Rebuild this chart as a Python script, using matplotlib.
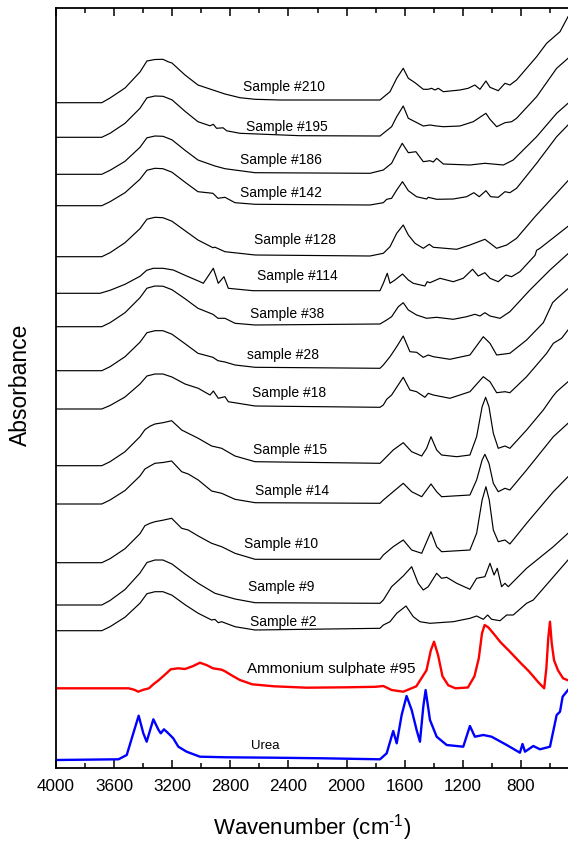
import matplotlib
matplotlib.use("Agg")
import matplotlib.pyplot as plt
from matplotlib.ticker import MultipleLocator

plt.rcParams['font.family'] = ['Liberation Sans', 'DejaVu Sans']
plt.rcParams['mathtext.default'] = 'regular'

# spectra: (wavenumber, absorbance above the curve's own baseline), arbitrary units
s210 = [(4000, 0), (3685, 0), (3628, 4.7), (3525, 14.7), (3422, 30.7), (3374, 41.7), (3319, 43.2),
        (3264, 43.4), (3229, 41), (3202, 39.7), (3112, 27.7), (3023, 17.7), (2920, 12.7), (2837, 8.7),
        (2734, 5), (2630, 3.4), (2458, 2.7), (1770, 2.7), (1701, 11), (1655, 24.4), (1610, 34.4),
        (1575, 24.4), (1529, 20), (1472, 13.4), (1438, 13.4), (1415, 14.4), (1392, 12.7), (1369, 14.4),
        (1334, 11), (1220, 12.7), (1163, 14.4), (1117, 17.7), (1082, 13.4), (1041, 21.7), (1013, 15.4),
        (956, 12), (910, 19.4), (876, 17.7), (830, 22.7), (692, 46), (623, 59.4), (531, 71), (476, 86)]
s195 = [(4000, 0), (3685, 0), (3628, 4), (3525, 14), (3422, 29), (3374, 39.5), (3319, 41.3),
        (3264, 41), (3202, 37.5), (3112, 26), (3023, 15.6), (2940, 11.5), (2917, 13), (2895, 9),
        (2850, 9.5), (2825, 6.5), (2734, 4), (2321, 1.6), (1770, 1.3), (1747, 4), (1690, 10.6),
        (1655, 20.6), (1610, 31.3), (1575, 19), (1529, 15.6), (1472, 11.3), (1426, 12.3), (1380, 11.3),
        (1334, 10.6), (1220, 11.3), (1128, 15.6), (1041, 24), (1013, 18), (967, 10.6), (910, 14.6),
        (864, 15.6), (830, 19), (692, 40.6), (554, 69), (476, 79)]
s186 = [(4000, 0), (3685, 0), (3628, 4), (3525, 13), (3422, 27), (3374, 36.5), (3319, 38.3),
        (3264, 38), (3202, 34.5), (3112, 24), (3023, 14.3), (2906, 8.3), (2837, 5.6), (2630, 1.6),
        (1839, 1), (1747, 4.3), (1690, 11), (1655, 21), (1617, 31), (1575, 21.6), (1523, 22.6),
        (1472, 12.6), (1426, 13.6), (1403, 12.3), (1380, 16), (1334, 10.3), (1151, 9.3), (1048, 11),
        (921, 9.3), (853, 14.3), (692, 37.6), (554, 61), (476, 71)]
s142 = [(4000, 0), (3685, 0), (3628, 4), (3525, 13), (3422, 26.5), (3374, 35.5), (3319, 37.4),
        (3264, 37), (3202, 33.5), (3112, 23.5), (3023, 14), (2920, 12.4), (2885, 7.4), (2837, 8.4),
        (2768, 3), (2630, 1.4), (1839, 0.7), (1747, 3), (1724, 6.4), (1690, 7.4), (1655, 15.7),
        (1615, 24), (1575, 15), (1518, 9), (1449, 6.7), (1438, 8.4), (1380, 6.4), (1266, 6.7),
        (1174, 9), (1124, 13), (1087, 9), (1041, 15), (1008, 9), (956, 8.4), (910, 14), (876, 13),
        (830, 17.4), (692, 42.4), (554, 69), (476, 80.7)]
s128 = [(4000, 0), (3685, 0), (3628, 4), (3525, 14), (3422, 28), (3374, 37.5), (3319, 39.4),
        (3264, 39), (3202, 35.5), (3112, 26), (3023, 16.7), (2920, 9), (2906, 9.5), (2837, 5),
        (2630, 1.7), (1839, 0.7), (1747, 3.4), (1701, 10), (1655, 23.4), (1610, 31.7), (1575, 21.7),
        (1529, 13.4), (1472, 8.4), (1431, 12.4), (1403, 9.4), (1242, 7.4), (1151, 11.7), (1048, 17.4),
        (967, 8.4), (898, 11.7), (830, 18.4), (703, 40), (476, 76)]
s114 = [(4000, 0), (3697, 0), (3628, 3), (3525, 9), (3422, 17), (3376, 23), (3330, 25), (3264, 25),
        (3193, 23.3), (3112, 18), (3009, 11.6), (2986, 10), (2917, 25), (2883, 10), (2844, 16.6),
        (2814, 5), (2644, 2.6), (1770, 2.6), (1747, 10), (1720, 20), (1701, 10), (1667, 13.3),
        (1615, 19.3), (1575, 13.3), (1541, 10), (1461, 7.3), (1445, 11.6), (1426, 10.6), (1357, 15),
        (1266, 11.6), (1197, 15), (1133, 24), (1094, 17.3), (1048, 20.6), (1013, 15), (956, 11.6),
        (903, 18.3), (864, 16.6), (807, 21.6), (703, 38), (692, 43), (669, 45), (476, 67)]
s38 = [(4000, 0), (3685, 0), (3628, 4), (3525, 14), (3422, 29), (3374, 38.5), (3319, 40.7),
       (3264, 40.5), (3202, 37), (3112, 28), (3023, 18.4), (2920, 12.4), (2885, 8.4), (2837, 8.4),
       (2768, 3.4), (2630, 1.7), (1770, 2.7), (1724, 6.7), (1690, 10), (1644, 20), (1610, 24),
       (1575, 16.7), (1518, 11.7), (1449, 8.4), (1380, 9.4), (1266, 7.4), (1174, 10), (1117, 12.4),
       (1082, 10.7), (1048, 14), (1013, 10.7), (944, 8.4), (876, 15), (738, 36.7), (600, 56.7),
       (476, 73)]
s28 = [(4000, 0), (3685, 0), (3628, 4), (3525, 14), (3422, 28.5), (3374, 38), (3319, 40), (3264, 40),
       (3202, 36.5), (3112, 27), (3023, 17.4), (2920, 13.4), (2885, 10), (2837, 8.7), (2768, 5.7),
       (2630, 3.4), (1770, 2.4), (1747, 5.7), (1701, 14), (1655, 24), (1610, 34.7), (1564, 19),
       (1518, 18.4), (1472, 13.4), (1438, 15.7), (1403, 14), (1289, 11.4), (1151, 15.7), (1059, 34),
       (1013, 27.4), (967, 15.7), (876, 17.4), (761, 30.7), (646, 48), (582, 68), (554, 72), (476, 82)]
s18 = [(4000, 0), (3685, 0), (3628, 3.5), (3525, 12), (3422, 25), (3374, 33), (3319, 35), (3264, 35),
       (3202, 32), (3112, 25), (3021, 20.7), (2940, 14), (2917, 18), (2883, 10.7), (2837, 12.3),
       (2814, 7.3), (2630, 3), (1770, 1.7), (1747, 4), (1724, 9.7), (1690, 14), (1610, 31.7),
       (1564, 19), (1518, 17.3), (1461, 11.7), (1438, 15.7), (1403, 14), (1289, 10.7), (1151, 17.3),
       (1059, 32.3), (1013, 27.3), (967, 16.3), (910, 17.3), (876, 16.3), (761, 32.3), (623, 55.7),
       (577, 65.7), (520, 70.7), (476, 79)]
s15 = [(4000, 0), (3685, 0), (3628, 4), (3525, 14), (3422, 29), (3388, 36), (3353, 39.5),
       (3319, 41.7), (3264, 43), (3204, 45), (3135, 35.7), (3090, 32.4), (3021, 27.4), (2929, 19.7),
       (2860, 17.4), (2768, 9.7), (2630, 4), (1770, 2.4), (1747, 5.7), (1679, 15.7), (1610, 23),
       (1552, 14), (1483, 9.7), (1449, 17.4), (1419, 29), (1380, 15.7), (1346, 10.7), (1242, 9),
       (1151, 10.7), (1105, 29), (1067, 59), (1043, 68.4), (1020, 59), (990, 32.4), (956, 17.4),
       (910, 19.7), (876, 17.4), (761, 35.7), (646, 55.7), (582, 69), (554, 74), (476, 84)]
s14 = [(4000, 0), (3685, 0), (3628, 4), (3525, 13.5), (3422, 28), (3388, 35), (3353, 38),
       (3319, 40.7), (3264, 41.5), (3204, 43), (3135, 32.3), (3090, 30), (3021, 24), (2929, 13),
       (2860, 10.7), (2768, 4.7), (2630, 1.3), (1770, 0.7), (1747, 4), (1679, 12.3), (1610, 20.7),
       (1552, 12.3), (1483, 7.3), (1419, 20), (1380, 12.3), (1346, 7.3), (1151, 9), (1105, 24),
       (1067, 44), (1048, 49.7), (1020, 40.7), (990, 20.7), (956, 12.3), (910, 15.7), (876, 14),
       (761, 34), (577, 67.3), (476, 80.7)]
s10 = [(4000, 0), (3685, 0), (3628, 4), (3525, 14), (3422, 29), (3388, 37), (3353, 39.4), (3319, 41),
       (3264, 42.5), (3204, 44.4), (3135, 34.4), (3090, 32.7), (3021, 26.7), (2929, 19.4),
       (2860, 16), (2768, 9.4), (2630, 3.4), (1770, 3.4), (1747, 7.7), (1679, 16), (1610, 22.7),
       (1552, 12.7), (1483, 9.4), (1419, 31), (1380, 16), (1346, 11), (1151, 12.7), (1105, 29.4),
       (1067, 62.7), (1041, 76), (1018, 62.7), (990, 32.7), (956, 21), (910, 22.7), (876, 18.7),
       (761, 39.4), (577, 71), (476, 86)]
s9 = [(4000, 0), (3685, 0), (3628, 4.5), (3525, 15.5), (3422, 32), (3374, 42.5), (3319, 45),
      (3264, 45), (3202, 41), (3112, 31), (3021, 21.7), (2906, 11.7), (2768, 6), (2630, 2.3),
      (1770, 1.7), (1747, 5), (1690, 18.3), (1610, 29), (1552, 38.3), (1507, 21.7), (1472, 15),
      (1438, 18.3), (1380, 31.7), (1346, 26.7), (1311, 27.7), (1242, 21.7), (1151, 15.7), (1105, 26.7),
      (1048, 28.3), (1013, 41.7), (985, 30), (963, 36.7), (933, 18.3), (910, 21.7), (887, 18.3),
      (761, 36.7), (577, 58.3), (476, 71.7)]
s2 = [(4000, 0), (3685, 0), (3628, 4), (3525, 13.5), (3422, 27.5), (3374, 37), (3319, 39), (3264, 39),
      (3202, 35.5), (3112, 26), (3021, 17.4), (2929, 10.7), (2906, 11.3), (2883, 8), (2860, 9),
      (2768, 4), (2630, 0.7), (1770, 2.4), (1747, 5.7), (1701, 9), (1655, 17.4), (1591, 24.7),
      (1541, 14), (1495, 9), (1426, 7.4), (1266, 9), (1151, 12.4), (1105, 14.7), (1059, 11.4),
      (1029, 15.7), (1002, 11.4), (944, 10), (898, 15.7), (853, 15.7), (761, 27.4), (715, 30.7),
      (476, 70.7)]
amm_sulphate = [(4000, 0), (3500, 0), (3460, -1.5), (3434, -3.4), (3400, -1.5), (3360, 0),
                (3330, 4), (3294, 8), (3240, 15), (3210, 19), (3160, 20), (3112, 19.3), (3060, 22),
                (3009, 25.6), (2960, 23), (2920, 20), (2860, 18.6), (2837, 17), (2780, 12),
                (2734, 8.3), (2650, 4), (2500, 2), (2275, 0.6), (2000, 1), (1800, 1.5), (1747, 2.3),
                (1690, -1.7), (1610, -3.4), (1520, 2), (1450, 18), (1420, 38), (1398, 46.6),
                (1370, 33), (1340, 12), (1300, 3), (1250, 0), (1165, 0.8), (1120, 12), (1090, 30),
                (1068, 55), (1050, 63.3), (1025, 61), (990, 55), (940, 46), (885, 38), (800, 25),
                (745, 17), (680, 6), (640, 0), (625, 20), (612, 50), (600, 66.6), (588, 45),
                (572, 28), (545, 18), (510, 10), (476, 8)]
urea = [(4000, 0), (3570, 0.7), (3513, 5), (3468, 26.7), (3431, 44.3), (3399, 26.7), (3376, 18.3),
        (3330, 40.7), (3294, 30), (3279, 26.7), (3257, 30.7), (3227, 26.7), (3193, 21.7),
        (3158, 13.3), (3101, 8.3), (3009, 3.3), (2825, 2.7), (2505, 2.3), (2160, 1.7), (1770, 0.7),
        (1724, 6.7), (1679, 29), (1655, 16.7), (1621, 45), (1587, 64), (1552, 50), (1518, 30),
        (1495, 18.3), (1472, 53.3), (1456, 70), (1426, 40), (1380, 23.3), (1311, 15), (1197, 13.3),
        (1151, 34), (1117, 23.3), (1059, 25), (1002, 23.3), (898, 15), (807, 7.3), (789, 16),
        (772, 8.3), (715, 14), (669, 10.7), (600, 13.3), (554, 45), (531, 48.3), (513, 63.3),
        (476, 70)]

samples = [s210, s195, s186, s142, s128, s114, s38, s28, s18, s15, s14, s10, s9, s2]
sample_names = ["Sample #210", "Sample #195", "Sample #186", "Sample #142", "Sample #128",
                "Sample #114", "Sample #38", "sample #28", "Sample #18", "Sample #15",
                "Sample #14", "Sample #10", "Sample #9", "Sample #2"]
sample_offsets = [665.3, 630.7, 593.7, 562.3, 511.3, 474.7, 441.3, 397.3, 359, 302.3, 264, 205.3,
                  163, 137.3]
label_wn = [2430, 2413, 2452, 2452, 2357, 2337, 2410, 2436, 2394, 2388, 2372, 2452, 2447, 2436]
label_y = [681.5, 640.5, 608, 574.5, 528, 492.3, 454.4, 413, 375, 318.3, 277.4, 224, 181, 146]

fig = plt.figure(figsize=(5.68, 8.44), dpi=100)
ax = fig.add_axes([56 / 568, 1 - 768 / 844, 512 / 568, 760 / 844])

for spec, off, name, lx, ly in zip(samples, sample_offsets, sample_names, label_wn, label_y):
    wn = [p[0] for p in spec]
    ab = [p[1] + off for p in spec]
    ax.plot(wn, ab, color='black', lw=0.85)
    ax.text(lx, ly, name, ha='center', va='center', fontsize=10)

ax.plot([p[0] for p in amm_sulphate], [p[1] + 79.7 for p in amm_sulphate], color='#ff0000', lw=1.7)
ax.text(2107, 98.7, "Ammonium sulphate #95", ha='center', va='center', fontsize=11)
ax.plot([p[0] for p in urea], [p[1] + 8 for p in urea], color='#0000ff', lw=1.7)
ax.text(2562, 22, "Urea", ha='center', va='center', fontsize=9.5)

ax.set_xlim(4000, 476)
ax.set_ylim(0, 760)
ax.xaxis.set_major_locator(MultipleLocator(400))
ax.xaxis.set_minor_locator(MultipleLocator(200))
ax.set_yticks([])
ax.tick_params(axis='x', which='both', direction='in', top=True, width=1.1, labelsize=12.3, pad=8)
ax.tick_params(axis='x', which='major', length=6)
ax.tick_params(axis='x', which='minor', length=3.5)
ax.spines['right'].set_visible(False)
for s in ['left', 'bottom', 'top']:
    ax.spines[s].set_linewidth(1.3)

# hyphen (not a minus) in the superscript, as in the original
ax.set_xlabel("Wavenumber (cm$^{\u2010 1}$)", fontsize=16, va='center')
ax.xaxis.set_label_coords(0.5, -0.079)
ax.set_ylabel("Absorbance", fontsize=16.5, va='center')
ax.yaxis.set_label_coords(-0.0703, 0.504)

fig.savefig("out.png", dpi=100)
